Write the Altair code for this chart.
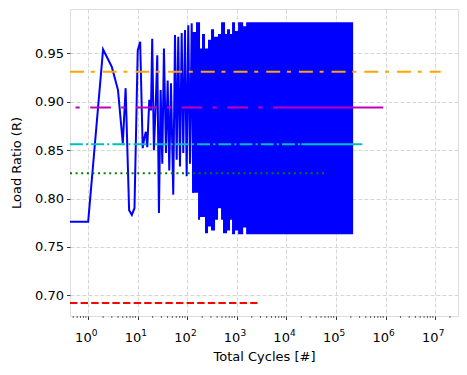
import altair as alt
import pandas as pd

# ---- blue load-ratio trace (sparse part) ----
blue_cycles = [0.43, 1.0, 2.0, 3.0, 4.0, 5.0, 5.7, 6.7, 7.6, 8.6, 10.0, 11.2, 12.6, 13.5,
               14.6, 15.6, 17.1, 18.5, 19.6, 21.2, 23.0, 24.8, 26.8, 29.0, 31.3, 33.8,
               37.1, 40.2, 43.3, 46.9, 52.1, 56.5, 61.1, 65.8, 71.2, 77.1, 83.0, 89.9,
               97.2, 104.7, 113.4, 122.7, 132.1]
blue_ratio = [0.776, 0.776, 0.954, 0.936, 0.912, 0.857, 0.914, 0.788, 0.783, 0.790, 0.953,
              0.962, 0.852, 0.862, 0.869, 0.853, 0.902, 0.891, 0.965, 0.850, 0.895, 0.948,
              0.785, 0.912, 0.836, 0.955, 0.847, 0.922, 0.829, 0.919, 0.804, 0.969, 0.840,
              0.967, 0.833, 0.971, 0.847, 0.974, 0.823, 0.979, 0.836, 0.981, 0.806]

# ---- dense oscillation envelope (blocks) ----
band_cycles = [125, 150, 165, 181, 198, 228, 262, 301, 347, 363, 417, 480, 526, 578,
               634, 729, 800, 920, 1060, 1340, 1540, 222000]
band_low = [0.806, 0.806, 0.778, 0.781, 0.781, 0.764, 0.771, 0.767, 0.767, 0.778, 0.790,
            0.778, 0.764, 0.764, 0.767, 0.778, 0.763, 0.767, 0.763, 0.770, 0.763, 0.763]
band_high = [0.972, 0.982, 0.982, 0.955, 0.970, 0.955, 0.964, 0.975, 0.967, 0.967, 0.970,
             0.982, 0.982, 0.970, 0.975, 0.970, 0.982, 0.973, 0.982, 0.978, 0.982, 0.982]

# ---- horizontal reference levels ----
ref_names = ["red", "green", "cyan", "magenta", "orange"]
ref_levels = [0.692, 0.826, 0.856, 0.894, 0.931]
ref_start = [0.43, 0.43, 0.43, 0.556, 0.43]
ref_end = [2600, 58000, 340000, 900000, 13000000]
ref_solid_from = [None, None, 20000, 5600, None]

x_ticks = [1, 10, 100, 1000, 10000, 100000, 1000000, 10000000]
x_tick_exps = ["0", "1", "2", "3", "4", "5", "6", "7"]
y_ticks = [0.70, 0.75, 0.80, 0.85, 0.90, 0.95]
minor_ticks = [m * 10 ** e for e in range(-1, 8) for m in range(2, 10) if 0.43 <= m * 10 ** e <= 2.9e7]

W, H = 388, 307
FONT = "DejaVu Sans"

xscale = alt.Scale(type="log", domain=[0.43, 2.9e7], nice=False)
yscale = alt.Scale(domain=[0.6786, 0.9958], nice=False, zero=False)

xaxis = alt.Axis(values=x_ticks, title="Total Cycles [#]", labels=False,
                 grid=True, gridDash=[4, 2], gridColor="#cccccc", gridWidth=0.8,
                 tickSize=3.5, tickColor="black", tickWidth=0.8, domain=False,
                 titleFont=FONT, titleFontSize=13, titleFontWeight="normal", titleColor="black",
                 titlePadding=31)
yaxis = alt.Axis(values=y_ticks, format=".2f", title="Load Ratio (R)",
                 grid=True, gridDash=[4, 2], gridColor="#cccccc", gridWidth=0.8,
                 tickSize=3.5, tickColor="black", tickWidth=0.8, domain=False,
                 labelFont=FONT, labelFontSize=13, labelColor="black", labelPadding=3,
                 titleFont=FONT, titleFontSize=13, titleFontWeight="normal", titleColor="black",
                 titlePadding=11)

blue_df = pd.DataFrame({"cycles": blue_cycles, "ratio": blue_ratio})
band_df = pd.DataFrame({"cycles": band_cycles, "low": band_low, "high": band_high})
tick_df = pd.DataFrame({"cycles": x_ticks, "exp": x_tick_exps})

base_axes = alt.Chart(blue_df).mark_line(color="#0000ff", strokeWidth=2, clip=True).encode(
    x=alt.X("cycles:Q", scale=xscale, axis=xaxis),
    y=alt.Y("ratio:Q", scale=yscale, axis=yaxis),
)

band = alt.Chart(band_df).mark_area(color="#0000ff", interpolate="step-after", opacity=1, clip=True).encode(
    x=alt.X("cycles:Q", scale=xscale),
    y=alt.Y("low:Q", scale=yscale),
    y2="high:Q",
)

colors = {"red": "#ff0000", "green": "#008000", "cyan": "#00bfbf", "magenta": "#bf00bf", "orange": "#ffa500"}
dashes = {"red": [7.4, 3.2], "green": [2, 3.6], "cyan": [12.8, 3.2, 2, 3.2],
          "magenta": [20.6, 10.3, 4.3, 10.5], "orange": [14, 6.7, 4, 8]}
offsets = {"red": 0, "green": 0, "cyan": 0, "magenta": 31.0, "orange": 0}

ref_layers = []
for name, lvl, s, e, sf in zip(ref_names, ref_levels, ref_start, ref_end, ref_solid_from):
    dash_end = sf if sf is not None else e
    d = pd.DataFrame({"cycles": [s, dash_end], "ratio": [lvl, lvl]})
    ref_layers.append(alt.Chart(d).mark_line(color=colors[name], strokeWidth=2, strokeDash=dashes[name],
                                             strokeDashOffset=offsets[name], clip=True).encode(
        x=alt.X("cycles:Q", scale=xscale), y=alt.Y("ratio:Q", scale=yscale)))
    if sf is not None:
        d2 = pd.DataFrame({"cycles": [sf, e], "ratio": [lvl, lvl]})
        ref_layers.append(alt.Chart(d2).mark_line(color=colors[name], strokeWidth=2, clip=True).encode(
            x=alt.X("cycles:Q", scale=xscale), y=alt.Y("ratio:Q", scale=yscale)))

minor = alt.Chart(pd.DataFrame({"cycles": minor_ticks})).mark_rule(color="black", strokeWidth=0.6).encode(
    x=alt.X("cycles:Q", scale=xscale),
    y=alt.value(H), y2=alt.value(H + 2),
)

# tick labels "10" with superscript exponent
base_lbl = alt.Chart(tick_df).mark_text(font=FONT, fontSize=13, color="black", align="right",
                                        baseline="alphabetic", dx=3.5).encode(
    x=alt.X("cycles:Q", scale=xscale), y=alt.value(H + 26.3), text=alt.value("10"))
exp_lbl = alt.Chart(tick_df).mark_text(font=FONT, fontSize=9, color="black", align="left",
                                       baseline="alphabetic", dx=3.6).encode(
    x=alt.X("cycles:Q", scale=xscale), y=alt.value(H + 19.8), text="exp:N")

chart = alt.layer(base_axes, band, *ref_layers, minor, base_lbl, exp_lbl).properties(
    width=W, height=H,
    padding={"left": 62, "top": 1, "right": 1, "bottom": 51},
    autosize=alt.AutoSizeParams(type="none"),
).configure_view(stroke="black", strokeWidth=1).configure(background="white")

chart.save("out.html", embed_options={"renderer": "svg", "actions": False})
